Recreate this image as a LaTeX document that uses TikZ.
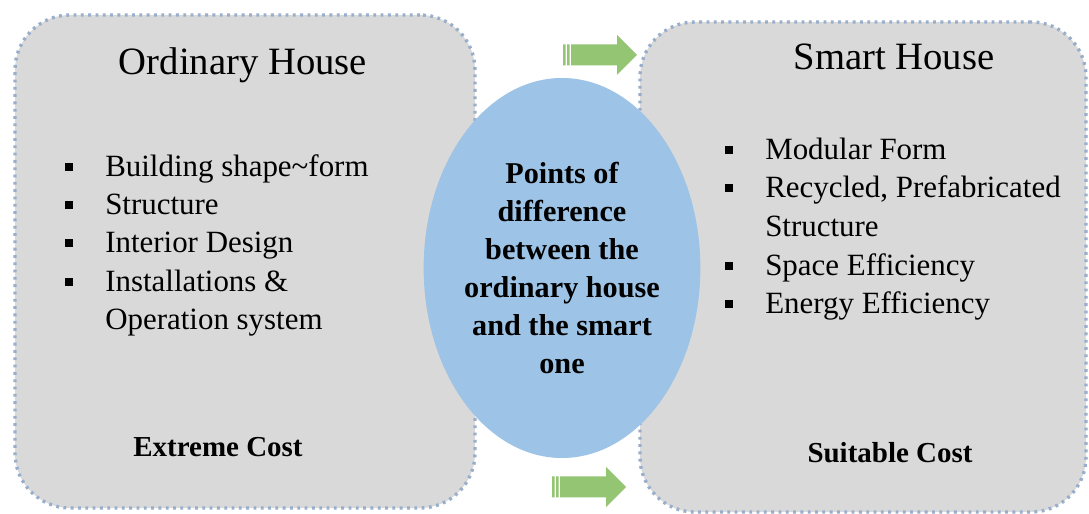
\documentclass[tikz,border=0pt]{standalone}
\usepackage{fontspec}
\setmainfont{Liberation Serif}
\usetikzlibrary{shapes.geometric,positioning}
\definecolor{boxgray}{HTML}{D9D9D9}
\definecolor{dotblue}{HTML}{98AECA}
\definecolor{ovalblue}{HTML}{9DC3E6}
\definecolor{leafgreen}{HTML}{93C572}
\tikzset{
    housebox/.style={fill=boxgray,draw=dotblue,line width=2.4pt,
      dash pattern=on 2pt off 3.2pt,rounded corners=13.75mm,inner sep=0pt},
    housetitle/.style={font=\fontsize{27.5}{30}\selectfont,anchor=base,inner sep=0pt},
    listitem/.style={font=\fontsize{22}{26}\selectfont,anchor=base west,inner sep=0pt},
    sqbullet/.style={fill=black,minimum size=2.1mm,inner sep=0pt},
    costlabel/.style={font=\bfseries\fontsize{20.6}{24}\selectfont,anchor=base,inner sep=0pt},
    diffoval/.style={ellipse,fill=ovalblue,minimum width=62.5mm,minimum height=95mm,
      inner sep=0pt,align=center,font=\bfseries\fontsize{21.5}{27}\selectfont}
}
% striped block arrow, tail at the given coordinate
\newcommand\stripearrow[1]{%
  \fill[leafgreen,shift={(#1)}] (0,-10.5) rectangle (2.5,10.5)
    (4,-10.5) rectangle (6.5,10.5)
    (8,-10.5) -- (54,-10.5) -- (54,-20) -- (74,0) -- (54,20) -- (54,10.5) -- (8,10.5) -- cycle;}

\begin{document}
\begin{tikzpicture}[x=0.25mm,y=-0.25mm]
    \useasboundingbox (0,0) rectangle (1089,514);
    % the two houses
    \node[housebox,minimum width=115mm,minimum height=123.25mm] (ordinary) at (245,261.5) {};
    \node[housebox,minimum width=111.5mm,minimum height=122.5mm] (smart) at (863,267) {};
    \coordinate (uparrow) at (563,55);
    \coordinate (lowarrow) at (552,487);
    \stripearrow{uparrow}
    \stripearrow{lowarrow}
    \node[diffoval] (diff) at (562,268) {Points of\\difference\\between the\\ordinary house\\and the smart\\one};

    \node[housetitle] (ordtitle) at (243,75) {Ordinary House};
    \node[housetitle] (smarttitle) at (894,70) {Smart House};

    \foreach \y/\txt [count=\i] in {177/Building shape\textasciitilde form,215/Structure,
        253/Interior Design,292/Installations \&} {
      \node[sqbullet] (ob\i) at (69,\y-10) {};
      \node[listitem] (oi\i) at (105,\y) {\txt};
    }
    \node[listitem] (oi5) at (105,330) {Operation system};

    \foreach \y/\txt [count=\i] in {160/Modular Form,198/{Recycled, Prefabricated},
        276/Space Efficiency,314/Energy Efficiency} {
      \node[sqbullet] (sb\i) at (729,\y-10) {};
      \node[listitem] (si\i) at (765,\y) {\txt};
    }
    \node[listitem] (si5) at (765,237) {Structure};

    \node[costlabel] (ordcost) at (218,457) {Extreme Cost};
    \node[costlabel] (smartcost) at (890,463) {Suitable Cost};
\end{tikzpicture}
\end{document}
